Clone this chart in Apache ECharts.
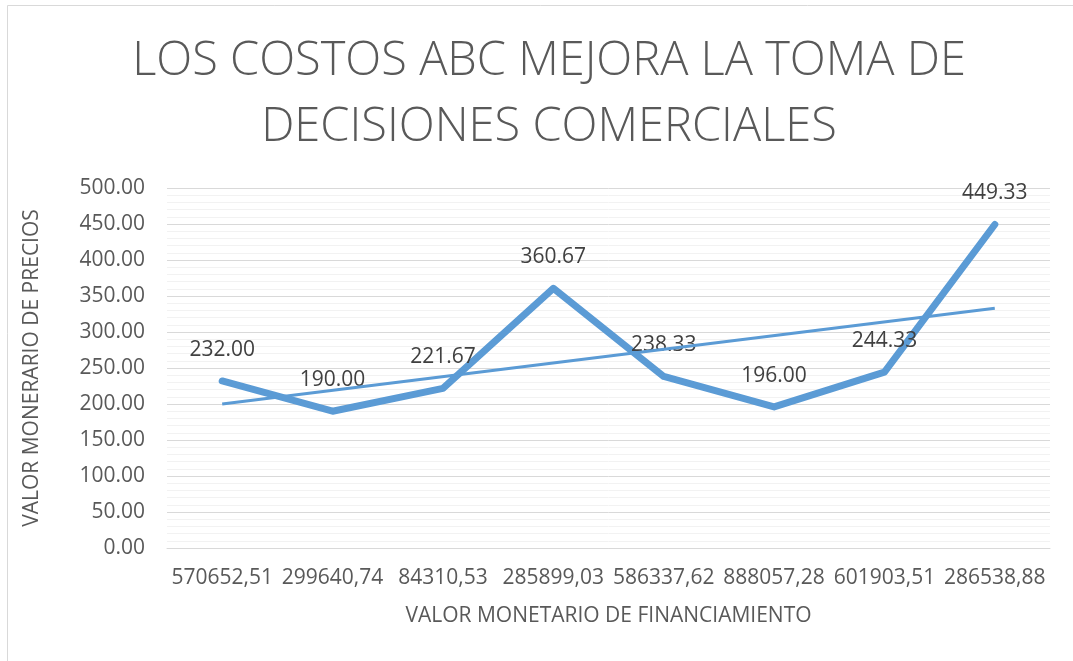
<!DOCTYPE html>
<html>
<head>
<meta charset="utf-8">
<script src="https://cdn.jsdelivr.net/npm/echarts@6/dist/echarts.min.js"></script>
<style>
html, body { margin: 0; padding: 0; background: #fff; }
#main { width: 1073px; height: 661px; }
</style>
</head>
<body>
<div id="main"></div>
<script>
var categorias = ['570652,51', '299640,74', '84310,53', '285899,03', '586337,62', '888057,28', '601903,51', '286538,88'];
var precios = [232.00, 190.00, 221.67, 360.67, 238.33, 196.00, 244.33, 449.33];
// linea de tendencia (lineal), extremos
var tendenciaX = [0, 7];
var tendenciaY = [200.1, 333.0];

var myChart = echarts.init(document.getElementById('main'));
var fuente = '"Open Sans", sans-serif';

option = {
    backgroundColor: '#fff',
    animation: false,
    title: {
        text: 'LOS COSTOS ABC MEJORA LA TOMA DE\nDECISIONES COMERCIALES',
        left: 544,
        top: 24,
        textAlign: 'center',
        textStyle: {
            fontFamily: fuente,
            fontWeight: 300,
            fontSize: 47,
            lineHeight: 66,
            color: '#595959'
        }
    },
    graphic: [{
        type: 'rect',
        shape: { x: 7.5, y: 5.5, width: 1100, height: 700 },
        style: { fill: 'none', stroke: '#d9d9d9', lineWidth: 1 },
        silent: true
    }],
    grid: {
        left: 167,
        right: 23,
        top: 188,
        bottom: 113
    },
    xAxis: {
        type: 'category',
        data: categorias,
        boundaryGap: true,
        name: 'VALOR MONETARIO DE FINANCIAMIENTO',
        nameLocation: 'middle',
        nameGap: 58,
        nameTextStyle: { fontFamily: fuente, fontSize: 21, color: '#595959' },
        axisLine: { lineStyle: { color: '#d9d9d9', width: 1 } },
        axisTick: { show: false },
        axisLabel: {
            fontFamily: fuente,
            fontSize: 21,
            color: '#595959',
            margin: 20,
            interval: 0
        }
    },
    yAxis: {
        type: 'value',
        min: 0,
        max: 500,
        interval: 50,
        name: 'VALOR MONERARIO DE PRECIOS',
        nameLocation: 'middle',
        nameGap: 124,
        nameTextStyle: { fontFamily: fuente, fontSize: 21, color: '#595959' },
        axisLine: { show: false },
        axisTick: { show: false },
        axisLabel: {
            fontFamily: fuente,
            fontSize: 21,
            color: '#595959',
            margin: 22,
            formatter: function (v) { return v.toFixed(2); }
        },
        splitLine: { show: true, lineStyle: { color: '#d9d9d9', width: 1 } },
        minorTick: { show: false, splitNumber: 5 },
        minorSplitLine: { show: true, lineStyle: { color: '#f2f2f2', width: 1 } }
    },
    series: [{
        name: 'precios',
        type: 'line',
        data: precios,
        symbol: 'circle',
        symbolSize: 1,
        showSymbol: true,
        lineStyle: { color: '#5b9bd5', width: 7, cap: 'round', join: 'round' },
        itemStyle: { color: '#5b9bd5' },
        label: {
            show: true,
            position: 'top',
            distance: 20,
            fontFamily: fuente,
            fontSize: 21,
            color: '#404040',
            formatter: function (p) { return p.value.toFixed(2); }
        },
        labelLayout: { hideOverlap: false },
        z: 2
    }, {
        name: 'tendencia',
        type: 'line',
        data: [[tendenciaX[0], tendenciaY[0]], [tendenciaX[1], tendenciaY[1]]],
        symbol: 'none',
        lineStyle: { color: '#5b9bd5', width: 3 },
        z: 3
    }]
};
myChart.setOption(option);
</script>
</body>
</html>
